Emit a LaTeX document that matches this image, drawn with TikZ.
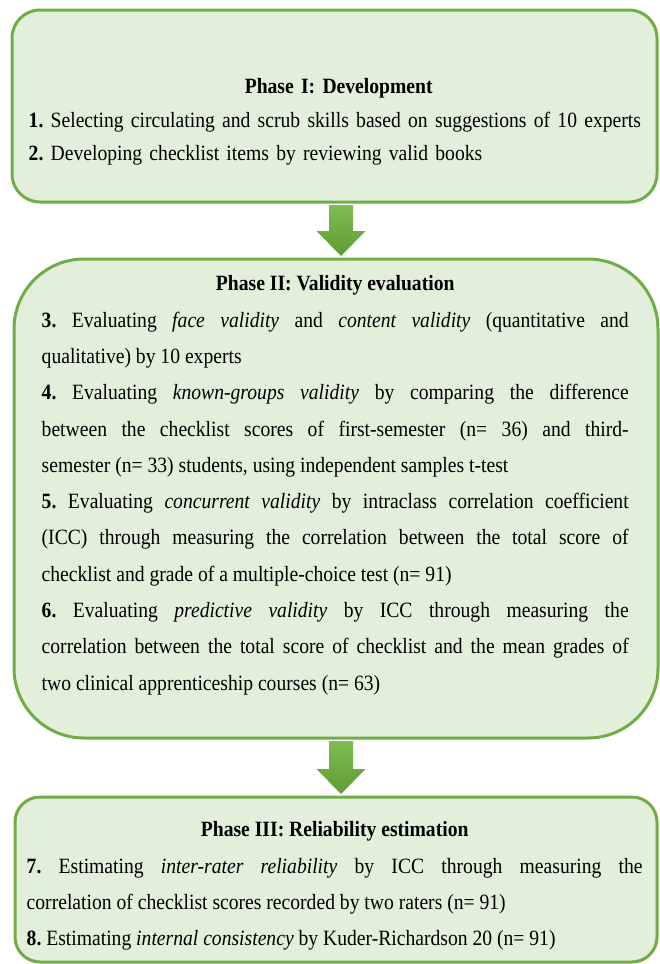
\documentclass[tikz,border=0pt]{standalone}
\usepackage{fontspec}
\setmainfont[FakeStretch=0.9]{Liberation Serif}
\usetikzlibrary{calc,positioning}
\definecolor{boxfill}{HTML}{E2EFDA}
\definecolor{boxline}{HTML}{70AD47}
\definecolor{arrowtop}{HTML}{7FBD52}
\definecolor{arrowbot}{HTML}{5C9C34}
\setlength{\parindent}{0pt}
\setlength{\parskip}{0pt}
\frenchspacing
\hyphenpenalty=10000
\exhyphenpenalty=10000
\tolerance=9999
\tikzstyle{phasebox}  = [draw=boxline, fill=boxfill, line width=3pt, inner sep=0pt]
\tikzstyle{phasetext} = [anchor=north west, inner sep=0pt, font=\fontsize{21.8}{36.3}\selectfont, align=justify]
\newcommand{\phasehead}[1]{{\centering\bfseries\rule{0pt}{15pt}#1\par}}
\newcommand{\flowarrow}[2]{%
  \shade[top color=arrowtop, bottom color=arrowbot]
    let \p1=(#1.south -| ax), \p2=(#2.north -| ax) in
    (\x1-12pt,\y1-1.5pt) -- (\x1+12pt,\y1-1.5pt) -- (\x1+12pt,\y2+26.5pt) -- (\x1+24.5pt,\y2+26.5pt)
    -- (\x1,\y2+1.5pt) -- (\x1-24.5pt,\y2+26.5pt) -- (\x1-12pt,\y2+26.5pt) -- cycle;}

\begin{document}
\begin{tikzpicture}[x=1pt,y=-1pt]
		\useasboundingbox (0,0) rectangle (660,964);
		\coordinate (ax) at (341,0);

		\node[phasebox, minimum width=645pt, minimum height=192pt, rounded corners=28pt] (ph1) at (334.5,106) {};
		\node[phasebox, minimum width=644pt, minimum height=479pt, rounded corners=70pt] (ph2) at (336,498.5) {};
		\node[phasebox, minimum width=642pt, minimum height=165pt, rounded corners=25pt] (ph3) at (336,879.5) {};

		\node[phasetext, text width=620pt, align=left, font=\fontsize{21.8}{33.5}\selectfont] (t1) at ([shift={(18,70)}]ph1.north west) {
			\phasehead{Phase I: Development}
			\textbf{1.} Selecting circulating and scrub skills based on suggestions of 10 experts\par
			\textbf{2.} Developing checklist items by reviewing valid books};

		\node[phasetext, text width=587pt] (t2) at ([shift={(29,18)}]ph2.north west) {
			\phasehead{Phase II: Validity evaluation}
			\textbf{3.} Evaluating \textit{face validity} and \textit{content validity} (quantitative and\linebreak qualitative) by 10 experts\par
			\textbf{4.} Evaluating \textit{known-groups validity} by comparing the difference\linebreak between the checklist scores of first-semester (n= 36) and third-\linebreak semester (n= 33) students, using independent samples t-test\par
			\textbf{5.} Evaluating \textit{concurrent validity} by intraclass correlation coefficient\linebreak (ICC) through measuring the correlation between the total score of\linebreak checklist and grade of a multiple-choice test (n= 91)\par
			\textbf{6.} Evaluating \textit{predictive validity} by ICC through measuring the\linebreak correlation between the total score of checklist and the mean grades of\linebreak two clinical apprenticeship courses (n= 63)};

		\node[phasetext, text width=616pt] (t3) at ([shift={(13,26)}]ph3.north west) {
			\phasehead{Phase III: Reliability estimation}
			\textbf{7.} Estimating \textit{inter-rater reliability} by ICC through measuring the\linebreak correlation of checklist scores recorded by two raters (n= 91)\par
			\textbf{8.} Estimating \textit{internal consistency} by Kuder-Richardson 20 (n= 91)};

		\flowarrow{ph1}{ph2}
		\flowarrow{ph2}{ph3}
	\end{tikzpicture}
\end{document}
